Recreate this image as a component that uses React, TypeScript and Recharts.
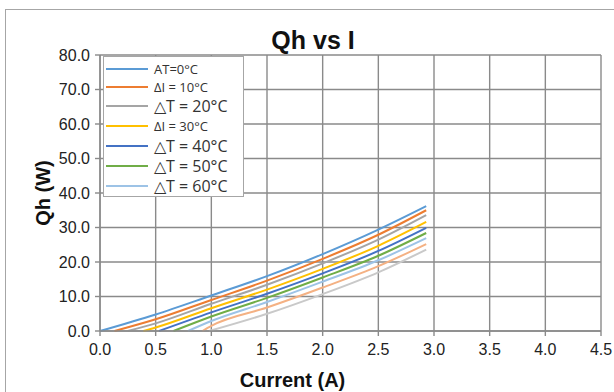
import {
  CartesianGrid,
  Label,
  Line,
  LineChart,
  XAxis,
  YAxis,
} from "recharts";

type Pt = { i: number; q: number };

// current (A) vs heat (W), one array per curve
const dt0: Pt[] = [
  { i: 0, q: 0 }, { i: 0.5, q: 4.8 }, { i: 1.0, q: 10.3 }, { i: 1.5, q: 15.9 },
  { i: 2.0, q: 22.3 }, { i: 2.5, q: 29.4 }, { i: 2.93, q: 36.2 },
];
const dt10: Pt[] = [
  { i: 0.13, q: 0 }, { i: 0.5, q: 3.4 }, { i: 1.0, q: 9.0 }, { i: 1.5, q: 14.6 },
  { i: 2.0, q: 20.9 }, { i: 2.5, q: 27.9 }, { i: 2.93, q: 35.0 },
];
const dt20: Pt[] = [
  { i: 0.25, q: 0 }, { i: 0.5, q: 2.2 }, { i: 1.0, q: 7.9 }, { i: 1.5, q: 13.4 },
  { i: 2.0, q: 19.6 }, { i: 2.5, q: 26.5 }, { i: 2.93, q: 33.6 },
];
const dt30: Pt[] = [
  { i: 0.39, q: 0 }, { i: 0.5, q: 1.0 }, { i: 1.0, q: 6.6 }, { i: 1.5, q: 12.0 },
  { i: 2.0, q: 18.0 }, { i: 2.5, q: 24.7 }, { i: 2.93, q: 31.6 },
];
const dt40: Pt[] = [
  { i: 0.53, q: 0 }, { i: 1.0, q: 5.4 }, { i: 1.5, q: 10.8 },
  { i: 2.0, q: 16.7 }, { i: 2.5, q: 23.2 }, { i: 2.93, q: 29.9 },
];
const dt50: Pt[] = [
  { i: 0.66, q: 0 }, { i: 1.0, q: 4.2 }, { i: 1.5, q: 9.6 },
  { i: 2.0, q: 15.5 }, { i: 2.5, q: 21.8 }, { i: 2.93, q: 28.4 },
];
const dt60: Pt[] = [
  { i: 0.79, q: 0 }, { i: 1.0, q: 2.9 }, { i: 1.5, q: 8.4 },
  { i: 2.0, q: 14.3 }, { i: 2.5, q: 20.5 }, { i: 2.93, q: 26.9 },
];
const dt70: Pt[] = [
  { i: 0.92, q: 0 }, { i: 1.0, q: 1.5 }, { i: 1.5, q: 6.8 },
  { i: 2.0, q: 12.6 }, { i: 2.5, q: 18.8 }, { i: 2.93, q: 25.2 },
];
const dt80: Pt[] = [
  { i: 0.98, q: 0 }, { i: 1.5, q: 5.0 },
  { i: 2.0, q: 10.7 }, { i: 2.5, q: 17.0 }, { i: 2.93, q: 23.6 },
];

const xTicks = [0, 0.5, 1, 1.5, 2, 2.5, 3, 3.5, 4, 4.5];
const yTicks = [0, 10, 20, 30, 40, 50, 60, 70, 80];

const series = [
  { name: "AT=0°C", data: dt0, color: "#5b9bd5", big: false },
  { name: "ΔI = 10°C", data: dt10, color: "#ed7d31", big: false },
  { name: "△T = 20°C", data: dt20, color: "#a5a5a5", big: true },
  { name: "ΔI = 30°C", data: dt30, color: "#ffc000", big: false },
  { name: "△T = 40°C", data: dt40, color: "#4472c4", big: true },
  { name: "△T = 50°C", data: dt50, color: "#70ad47", big: true },
  { name: "△T = 60°C", data: dt60, color: "#9dc3e6", big: true },
  { name: "dt70", data: dt70, color: "#f4b183", big: false },
  { name: "dt80", data: dt80, color: "#c9c9c9", big: false },
];

const rowHeights = [18, 18, 20, 20, 20, 20, 20];
const GRID = "#8a8a8a";
const FONT = "'Liberation Sans', Arial, sans-serif";
const tickStyle = { fill: "#222", fontSize: 16, fontFamily: FONT };

function LegendBox() {
  return (
    <div
      style={{
        position: "absolute",
        left: 103,
        top: 56,
        width: 141,
        paddingTop: 3,
        boxSizing: "border-box",
        background: "#fff",
        border: "1px solid #a6a6a6",
        fontFamily: "'Open Sans', sans-serif",
        color: "#333",
      }}
    >
      {series.slice(0, 7).map((s, k) => (
        <div
          key={s.name}
          style={{ height: rowHeights[k], display: "flex", alignItems: "center" }}
        >
          <span style={{ marginLeft: 2, width: 42, height: 2, background: s.color }} />
          <span
            style={{ marginLeft: 6, fontSize: s.big ? 16 : 13, lineHeight: 1, whiteSpace: "nowrap" }}
          >
            {s.name}
          </span>
        </div>
      ))}
    </div>
  );
}

export default function App() {
  return (
    <div
      style={{
        position: "absolute",
        left: 0,
        top: 0,
        width: 614,
        height: 392,
        overflow: "hidden",
        background: "#fff",
      }}
    >
      <div
        style={{
          position: "absolute",
          left: 5,
          top: 9,
          width: 700,
          height: 500,
          border: "1px solid #a6a6a6",
        }}
      />
      <div
        style={{
          position: "absolute",
          left: 0,
          top: 26,
          width: 626,
          textAlign: "center",
          fontFamily: FONT,
          fontWeight: "bold",
          fontSize: 25,
          color: "#111",
        }}
      >
        Qh vs I
      </div>
      <div style={{ position: "absolute", left: 0, top: 0 }}>
        <LineChart width={614} height={392} margin={{ top: 55, right: 13, bottom: 0, left: 0 }}>
          <CartesianGrid stroke={GRID} strokeWidth={1.4} />
          <XAxis
            type="number"
            dataKey="i"
            domain={[0, 4.5]}
            ticks={xTicks}
            tickFormatter={(v: number) => v.toFixed(1)}
            tick={tickStyle}
            tickSize={5}
            tickMargin={8}
            stroke={GRID}
            strokeWidth={1.4}
            height={61}
            allowDuplicatedCategory={false}
          >
            <Label
              value="Current (A)"
              position="insideBottom"
              offset={5}
              dx={-58}
              style={{ fontSize: 20, fontWeight: "bold", fill: "#111", fontFamily: FONT }}
            />
          </XAxis>
          <YAxis
            type="number"
            domain={[0, 80]}
            ticks={yTicks}
            tickFormatter={(v: number) => v.toFixed(1)}
            tick={tickStyle}
            tickSize={5}
            tickMargin={5}
            stroke={GRID}
            strokeWidth={1.4}
            width={100}
          >
            <Label
              value="Qh (W)"
              angle={-90}
              position="insideLeft"
              offset={43}
              textAnchor="middle"
              style={{ fontSize: 20, fontWeight: "bold", fill: "#111", fontFamily: FONT, textAnchor: "middle" }}
            />
          </YAxis>
          {series.map((s) => (
            <Line
              key={s.name}
              data={s.data}
              dataKey="q"
              name={s.name}
              type="monotone"
              stroke={s.color}
              strokeWidth={2}
              dot={false}
              isAnimationActive={false}
            />
          ))}
        </LineChart>
      </div>
      <LegendBox />
    </div>
  );
}
